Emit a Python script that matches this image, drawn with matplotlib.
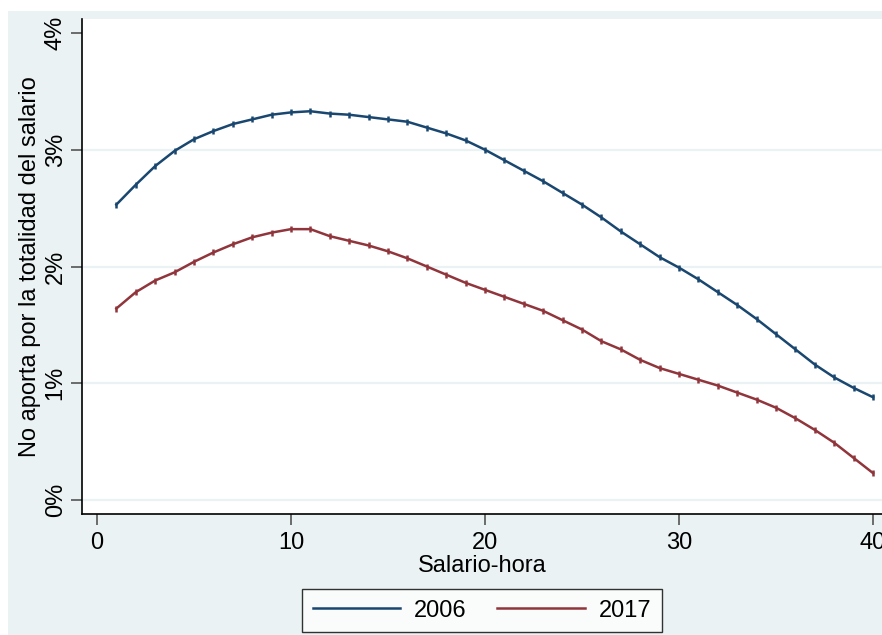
import matplotlib
matplotlib.use("Agg")
import matplotlib.pyplot as plt
from matplotlib.patches import Rectangle

plt.rcParams["font.family"] = ["Liberation Sans", "DejaVu Sans"]

# salario-hora (1..40) y porcentaje que no aporta por la totalidad del salario
salario = list(range(1, 41))

pct_2006 = [
    2.53, 2.70, 2.86, 2.99, 3.09, 3.16, 3.22, 3.26, 3.30, 3.32,
    3.33, 3.31, 3.30, 3.28, 3.26, 3.24, 3.19, 3.14, 3.08, 3.00,
    2.91, 2.82, 2.73, 2.63, 2.53, 2.42, 2.30, 2.19, 2.08, 1.99,
    1.89, 1.78, 1.67, 1.55, 1.42, 1.29, 1.16, 1.05, 0.96, 0.88,
]

pct_2017 = [
    1.64, 1.78, 1.88, 1.95, 2.04, 2.12, 2.19, 2.25, 2.29, 2.32,
    2.32, 2.26, 2.22, 2.18, 2.13, 2.07, 2.00, 1.93, 1.86, 1.80,
    1.74, 1.68, 1.62, 1.54, 1.46, 1.36, 1.29, 1.20, 1.13, 1.08,
    1.03, 0.98, 0.92, 0.86, 0.79, 0.70, 0.60, 0.49, 0.36, 0.23,
]

x_ticks = [0, 10, 20, 30, 40]
y_ticks = [0, 1, 2, 3, 4]

bg = "#eaf2f3"
blue = "#1a476f"
red = "#90353b"

fig = plt.figure(figsize=(8.82, 6.35), dpi=100)
fig.patch.set_facecolor("white")

# outer graph region, kept behind the axes
fig.patches.append(Rectangle((8 / 882, 0), 1, (635 - 11) / 635,
                             transform=fig.transFigure, facecolor=bg,
                             edgecolor="none", zorder=-10))

ax = fig.add_axes([82 / 882, (635 - 514) / 635, 1 - 82 / 882, (514 - 19) / 635])
ax.set_facecolor("white")

for y in [0, 1, 2, 3]:
    ax.axhline(y, color=bg, lw=1.6, zorder=1)

ax.plot(salario, pct_2006, color=blue, lw=1.8, marker="|", ms=4.5, mew=1.8,
        label="2006", zorder=3)
ax.plot(salario, pct_2017, color=red, lw=1.8, marker="|", ms=4.5, mew=1.8,
        label="2017", zorder=3)

ax.set_xlim(-0.77, 40.46)
ax.set_ylim(-0.12, 4.12)

ax.set_xticks(x_ticks)
ax.set_xticklabels([str(v) for v in x_ticks])
ax.set_yticks(y_ticks)
ax.set_yticklabels([f"{v}%" for v in y_ticks], rotation=90, va="center")

ax.tick_params(axis="both", direction="out", length=8, width=1.2,
               color="#555555", labelsize=17)
ax.tick_params(axis="x", pad=5)
ax.tick_params(axis="y", pad=3)

for side in ["top", "right"]:
    ax.spines[side].set_visible(False)
for side in ["left", "bottom"]:
    ax.spines[side].set_color("black")
    ax.spines[side].set_linewidth(1.2)

ax.set_xlabel("Salario-hora", fontsize=17, labelpad=1)
ax.set_ylabel("No aporta por la totalidad del salario", fontsize=17, labelpad=3)

leg = ax.legend(loc="upper center", bbox_to_anchor=(0.5, -0.1515), ncol=2,
                frameon=True, fancybox=False, edgecolor="black",
                fontsize=17, handlelength=3.7, columnspacing=1.3,
                handletextpad=0.6, borderpad=0.45, borderaxespad=0)
leg.get_frame().set_linewidth(1.0)
leg.get_frame().set_facecolor("white")
for line in leg.get_lines():
    line.set_marker("")
    line.set_linewidth(1.8)

fig.savefig("out.png", dpi=100, facecolor=fig.get_facecolor())
